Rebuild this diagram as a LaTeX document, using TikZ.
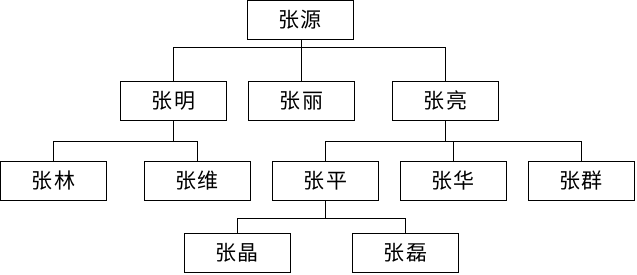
\documentclass[tikz,border=0pt]{standalone}
\usepackage{fontspec}
\newfontfamily\cjk{Noto Sans CJK SC}[LetterSpace=8]
\begin{document}
\begin{tikzpicture}[x=1pt,y=1pt,
  person/.style={draw, line width=0.7pt, rectangle, minimum width=106pt, minimum height=39pt, inner sep=0pt, font=\cjk\fontsize{21}{23}\selectfont},
  link/.style={line width=0.7pt}]
\useasboundingbox (0,0) rectangle (637,-275);
\node[person] (yuan) at (300,-20) {张源};
\node[person] (ming) at (173.5,-100.5) {张明};
\node[person] (li) at (301.5,-100.5) {张丽};
\node[person] (liang) at (445.5,-100.5) {张亮};
\node[person] (lin) at (53.5,-180.5) {张林};
\node[person] (wei) at (197,-180.5) {张维};
\node[person] (ping) at (325.5,-180.5) {张平};
\node[person] (hua) at (453,-180.5) {张华};
\node[person] (qun) at (581,-180.5) {张群};
\node[person] (jing) at (237,-252.5) {张晶};
\node[person] (lei) at (405.5,-252.5) {张磊};
\coordinate (b1) at (0,-47);
\coordinate (b2) at (0,-141);
\coordinate (b3) at (0,-218);
% level 1
\draw[link] (li.north) -- (li.north |- yuan.south);
\draw[link] (ming.north) -- (ming.north |- b1) -- (liang.north |- b1) -- (liang.north);
% level 2: ming
\draw[link] (ming.south) -- (ming.south |- b2);
\draw[link] (lin.north) -- (lin.north |- b2) -- (wei.north |- b2) -- (wei.north);
% level 2: liang
\draw[link] (liang.south) -- (liang.south |- b2);
\draw[link] (ping.north) -- (ping.north |- b2) -- (qun.north |- b2) -- (qun.north);
\draw[link] (hua.north) -- (hua.north |- b2);
% level 3: ping
\draw[link] (ping.south) -- (ping.south |- b3);
\draw[link] (jing.north) -- (jing.north |- b3) -- (lei.north |- b3) -- (lei.north);
\end{tikzpicture}
\end{document}
